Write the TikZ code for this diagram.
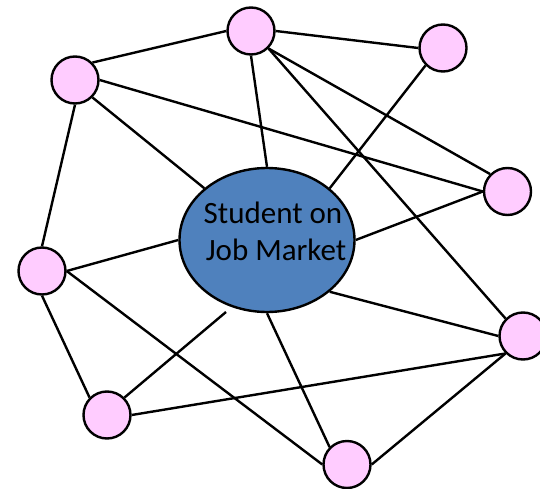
\documentclass[tikz,border=0pt]{standalone}
\usepackage{fontspec}
\setmainfont{Carlito}
\usetikzlibrary{shapes.geometric}
\definecolor{pinkfill}{HTML}{FFCCFF}
\definecolor{bluefill}{HTML}{4F81BD}
\begin{document}
\begin{tikzpicture}[x=1pt,y=-1pt,
  person/.style={circle,draw=black,line width=2.4pt,fill=pinkfill,minimum size=47pt,inner sep=0pt},
  hub/.style={ellipse,draw=black,line width=2.4pt,fill=bluefill,minimum width=175pt,minimum height=144pt,inner sep=0pt},
  link/.style={draw=black,line width=2.4pt},
  lbl/.style={font=\fontsize{31}{37}\selectfont,inner sep=0pt,anchor=base,text=black}]
\useasboundingbox (0,0) rectangle (540,489);
\node[hub] (ctr) at (267,240) {};
\node[lbl] (l1) at (273,223) {Student on};
\node[lbl] (l2) at (276,260) {Job Market};
\node[person] (A) at (251,31) {};
\node[person] (B) at (443,48) {};
\node[person] (C) at (75,80) {};
\node[person] (D) at (507.5,191.5) {};
\node[person] (E) at (42,271) {};
\node[person] (F) at (523,336) {};
\node[person] (G) at (107,415) {};
\node[person] (H) at (347,464.5) {};
\coordinate (gEnd) at (226,312);
\path[link] (C.north east) -- (A.west);
\path[link] (A.east) -- (B.west);
\path[link] (A.south) -- (ctr.north);
\path[link] (A.south east) -- (D.north west);
\path[link] (A.south east) -- (F.north west);
\path[link] (C.east) -- (D.west);
\path[link] (C.south east) -- (ctr.north west);
\path[link] (C.south) -- (E.north);
\path[link] (B.south west) -- (ctr.north east);
\path[link] (D.west) -- (ctr.east);
\path[link] (E.east) -- (ctr.west);
\path[link] (E.south) -- (G.north west);
\path[link] (E.east) -- (H.west);
\path[link] (G.north east) -- (gEnd);
\path[link] (G.east) -- (F.south west);
\path[link] (ctr.south east) -- (F.west);
\path[link] (ctr.south) -- (H.north west);
\path[link] (H.east) -- (F.south west);
\end{tikzpicture}
\end{document}
